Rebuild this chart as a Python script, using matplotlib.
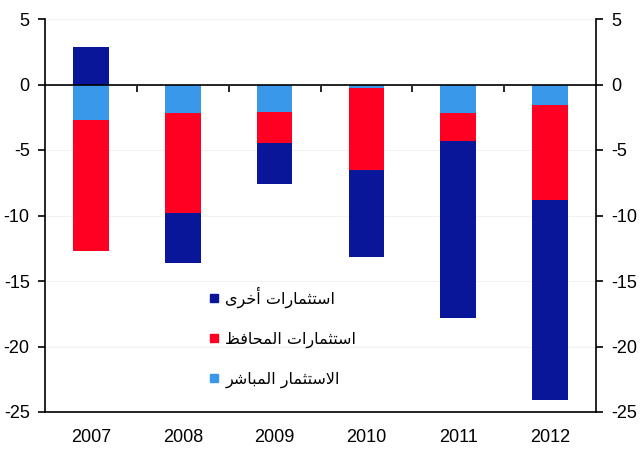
import matplotlib
matplotlib.use("Agg")
import matplotlib.pyplot as plt
from matplotlib.lines import Line2D
from matplotlib.ticker import MultipleLocator, FixedLocator
import numpy as np

plt.rcParams['font.family'] = ['Liberation Sans', 'DejaVu Sans']
plt.rcParams['axes.unicode_minus'] = False

years = ['2007', '2008', '2009', '2010', '2011', '2012']
direct = [-2.7, -2.2, -2.1, -0.3, -2.2, -1.6]          # الاستثمار المباشر
portfolio = [-10.0, -7.6, -2.4, -6.2, -2.1, -7.2]      # استثمارات المحافظ
other = [2.85, -3.85, -3.1, -6.7, -13.5, -15.3]        # استثمارات أخرى
labels = ['استثمارات أخرى', 'استثمارات المحافظ', 'الاستثمار المباشر']

c_dark = '#0a1699'
c_red = '#ff0022'
c_light = '#3a98ea'

# --- minimal Arabic shaping (presentation forms) for matplotlib ---
FORMS = {
    '\u0627': ('\uFE8D', '\uFE8E', None, None),
    '\u0623': ('\uFE83', '\uFE84', None, None),
    '\u0628': ('\uFE8F', '\uFE90', '\uFE91', '\uFE92'),
    '\u062A': ('\uFE95', '\uFE96', '\uFE97', '\uFE98'),
    '\u062B': ('\uFE99', '\uFE9A', '\uFE9B', '\uFE9C'),
    '\u062D': ('\uFEA1', '\uFEA2', '\uFEA3', '\uFEA4'),
    '\u062E': ('\uFEA5', '\uFEA6', '\uFEA7', '\uFEA8'),
    '\u0631': ('\uFEAD', '\uFEAE', None, None),
    '\u0633': ('\uFEB1', '\uFEB2', '\uFEB3', '\uFEB4'),
    '\u0634': ('\uFEB5', '\uFEB6', '\uFEB7', '\uFEB8'),
    '\u0638': ('\uFEC5', '\uFEC6', '\uFEC7', '\uFEC8'),
    '\u0641': ('\uFED1', '\uFED2', '\uFED3', '\uFED4'),
    '\u0644': ('\uFEDD', '\uFEDE', '\uFEDF', '\uFEE0'),
    '\u0645': ('\uFEE1', '\uFEE2', '\uFEE3', '\uFEE4'),
    '\u0649': ('\uFEEF', '\uFEF0', None, None),
}
LAMALEF = {'\u0627': ('\uFEFB', '\uFEFC'), '\u0623': ('\uFEF7', '\uFEF8')}


def joins_next(c):
    return c in FORMS and FORMS[c][2] is not None


def shape(text):
    chars = list(text)
    out = []
    i = 0
    n = len(chars)
    while i < n:
        c = chars[i]
        if c not in FORMS:
            out.append(c)
            i += 1
            continue
        prev = chars[i - 1] if i > 0 else None
        nxt = chars[i + 1] if i + 1 < n else None
        cp = prev is not None and joins_next(prev)
        if c == '\u0644' and nxt in LAMALEF:
            out.append(LAMALEF[nxt][1 if cp else 0])
            i += 2
            continue
        cn = nxt is not None and nxt in FORMS and joins_next(c)
        iso, fin, ini, med = FORMS[c]
        if cp and cn:
            out.append(med)
        elif cp:
            out.append(fin)
        elif cn:
            out.append(ini)
        else:
            out.append(iso)
        i += 1
    return ''.join(reversed(out))


fig = plt.figure(figsize=(6.44, 4.5), dpi=100)
ax = fig.add_axes([45 / 644, 1 - 412 / 450, 551 / 644, 393 / 450])

x = np.arange(len(years))
w = 0.39
pos_bottom = np.zeros(len(years))
neg_bottom = np.zeros(len(years))
for vals, col in [(direct, c_light), (portfolio, c_red), (other, c_dark)]:
    v = np.array(vals)
    b = np.where(v >= 0, pos_bottom, neg_bottom)
    ax.bar(x, v, w, bottom=b, color=col, zorder=3)
    pos_bottom = pos_bottom + np.where(v >= 0, v, 0)
    neg_bottom = neg_bottom + np.where(v < 0, v, 0)

ax.set_xlim(-0.5, 5.5)
ax.set_ylim(-25, 5)
ax.yaxis.set_major_locator(MultipleLocator(5))
ax.set_xticks(x)
ax.set_xticklabels(years)
ax.xaxis.set_minor_locator(FixedLocator(np.arange(0.5, 5.0, 1.0)))
ax.tick_params(axis='x', which='major', bottom=False, top=False, pad=9,
               labelsize=13)
ax.tick_params(axis='x', which='minor', bottom=False, top=True, direction='in',
               length=5, width=1.2)

ax.spines['top'].set_position(('data', 0))
ax.spines['top'].set_zorder(4)
for s in ['left', 'right', 'bottom', 'top']:
    ax.spines[s].set_linewidth(1.2)
    ax.spines[s].set_color('black')

ax.tick_params(axis='y', which='major', left=True, right=True, labelleft=True,
               labelright=True, direction='out', length=5, width=1.2,
               labelsize=13, pad=6)
ax.yaxis.grid(True, color='#f2f2f2', linewidth=0.8, zorder=0)
ax.set_axisbelow(True)

handles = [Line2D([], [], marker='s', linestyle='none', markersize=6, color=c)
           for c in [c_dark, c_red, c_light]]
leg = ax.legend(handles, [shape(t) for t in labels], loc='upper left',
                bbox_to_anchor=(195 / 644, 1 - 272 / 450), bbox_transform=fig.transFigure,
                frameon=False, labelspacing=1.5, handlelength=0.6, handletextpad=0.4,
                prop={'family': ['DejaVu Sans'], 'size': 11.5})

fig.savefig('out.png', dpi=100)
